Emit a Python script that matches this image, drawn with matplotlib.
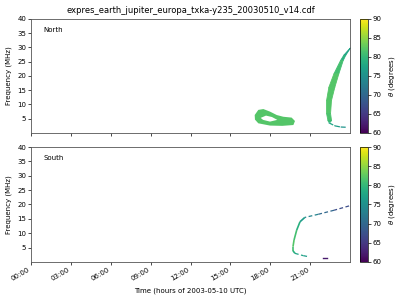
import numpy as np
import matplotlib
matplotlib.use('Agg')
import matplotlib.pyplot as plt
from matplotlib.collections import LineCollection
from matplotlib.colors import Normalize

# datos (hora UTC, frecuencia MHz, theta grados)
# Norte: bucle (contorno exterior y hueco)
loop_h = [16.83, 17.10, 17.48, 17.98, 18.49, 18.98, 19.61, 19.86, 19.74, 18.90, 17.98, 17.10, 16.85]
loop_f = [6.3, 8.1, 8.4, 7.5, 6.3, 5.7, 5.4, 4.2, 2.8, 2.5, 2.6, 3.4, 4.7]
loop_theta = 82
hole_h = [17.28, 17.68, 18.13, 18.53, 17.98, 17.46]
hole_f = [5.3, 6.1, 5.6, 4.6, 4.0, 4.6]

# Norte: arco (bordes izquierdo y derecho en funcion de la frecuencia)
arc_f = [30.0, 27.5, 25.6, 20.9, 16.2, 11.6, 7.0, 4.6, 4.0]
arc_hl = [23.98, 23.50, 23.25, 22.75, 22.37, 22.20, 22.20, 22.30, 22.35]
arc_hr = [24.00, 23.65, 23.45, 23.12, 22.82, 22.57, 22.50, 22.57, 22.50]
arc_theta = [77, 78, 80, 82, 82, 82, 82, 81, 80]
tail_h = [22.40, 22.87, 23.30, 23.75]
tail_f = [3.6, 2.5, 2.1, 2.0]
tail_theta = [78, 77, 76, 75]

# Sur: curva
s_h = [23.93, 22.80, 21.62, 20.60, 20.24, 19.99, 19.79, 19.71, 19.71, 19.86, 20.49, 20.87]
s_f = [19.5, 18.0, 16.6, 15.5, 14.0, 11.1, 7.65, 5.3, 3.9, 3.0, 2.2, 1.85]
s_theta = [66, 68, 72, 75, 78, 80, 82, 82, 80, 78, 77, 76]
dash_h = [22.0, 22.3]
dash_f = [1.3, 1.3]
dash_theta = 62

xticks = [0, 3, 6, 9, 12, 15, 18, 21]
xlabels = ['%02d:00' % h for h in xticks]

cmap = plt.get_cmap('viridis')
norm = Normalize(60, 90)

plt.rcParams['font.size'] = 5
fig = plt.figure(figsize=(4, 3), dpi=100)
ax1 = fig.add_axes([0.0775, 0.5567, 0.7975, 0.38])
ax2 = fig.add_axes([0.0775, 0.1267, 0.7975, 0.3833])
cax1 = fig.add_axes([0.9, 0.5567, 0.02, 0.38])
cax2 = fig.add_axes([0.9, 0.1267, 0.02, 0.3833])


def line_colored(ax, h, f, th, lw, ls='solid'):
    pts = np.column_stack([h, f])
    segs = np.stack([pts[:-1], pts[1:]], axis=1)
    vals = (np.array(th[:-1]) + np.array(th[1:])) / 2
    lc = LineCollection(segs, cmap=cmap, norm=norm, linewidths=lw, linestyles=ls)
    lc.set_array(vals)
    ax.add_collection(lc)


# Norte
ax1.fill(loop_h, loop_f, color=cmap(norm(loop_theta)), lw=0)
ax1.fill(hole_h, hole_f, color='white', lw=0)
for i in range(len(arc_f) - 1):
    ax1.fill_betweenx(arc_f[i:i + 2], arc_hl[i:i + 2], arc_hr[i:i + 2],
                      color=cmap(norm((arc_theta[i] + arc_theta[i + 1]) / 2)), lw=0.6)
line_colored(ax1, tail_h, tail_f, tail_theta, 0.9, (0, (4, 1)))

# Sur: tramo superior punteado, resto continuo
line_colored(ax2, s_h[:4], s_f[:4], s_theta[:4], 0.9, (0, (3, 2)))
line_colored(ax2, s_h[3:10], s_f[3:10], s_theta[3:10], 1.2)
line_colored(ax2, s_h[9:], s_f[9:], s_theta[9:], 0.9, (0, (3, 2)))
ax2.plot(dash_h, dash_f, color=cmap(norm(dash_theta)), lw=1.0)

for ax, lab in [(ax1, 'North'), (ax2, 'South')]:
    ax.set_xlim(0, 24)
    ax.set_ylim(0, 40)
    ax.set_yticks([5, 10, 15, 20, 25, 30, 35, 40])
    ax.set_xticks(xticks)
    ax.set_ylabel('Frequency (MHz)')
    ax.text(0.038, 0.9, lab, transform=ax.transAxes, va='center')
    ax.tick_params(length=2, width=0.5, pad=1.5)
    for s in ax.spines.values():
        s.set_linewidth(0.6)
        s.set_color('#555555')

ax1.set_xticklabels([])
ax2.set_xticklabels(xlabels, rotation=30, ha='right')
ax2.set_xlabel('Time (hours of 2003-05-10 UTC)')
ax1.set_title('expres_earth_jupiter_europa_txka-y235_20030510_v14.cdf', fontsize=6, pad=4)

sm = plt.cm.ScalarMappable(norm=norm, cmap=cmap)
for cax in (cax1, cax2):
    cb = fig.colorbar(sm, cax=cax, ticks=[60, 65, 70, 75, 80, 85, 90])
    cb.set_label(r'$\theta$ (degrees)')
    cb.outline.set_linewidth(0.5)
    cax.tick_params(length=2, width=0.5, pad=1.5)

fig.savefig('out.png', dpi=100)
